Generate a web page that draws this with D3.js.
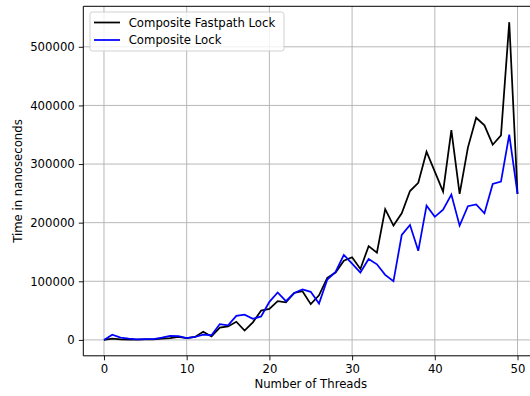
<!DOCTYPE html>
<html>
<head>
<meta charset="utf-8">
<script src="https://cdn.jsdelivr.net/npm/d3@7"></script>
<style>
html,body{margin:0;padding:0;background:#fff;}
svg{display:block;font-family:"DejaVu Sans",sans-serif;}
</style>
</head>
<body>
<svg id="chart" width="530" height="396"></svg>
<script>
const threads = d3.range(0, 51);
const seriesNames = ["Composite Fastpath Lock", "Composite Lock"];
const seriesColors = ["#000000", "#0000ff"];
const fastpathLock = [0, 2000, 1000, 500, 500, 1000, 1000, 2000, 3000, 5000,
  3000, 5000, 14000, 6000, 21000, 23000, 31000, 16000, 30000, 50000,
  53000, 66000, 64000, 80000, 83000, 61000, 76000, 106000, 115000, 135000,
  141000, 121000, 160000, 149000, 223000, 195000, 216000, 254000, 268000, 321000,
  287000, 253000, 358000, 249000, 328000, 379000, 366000, 333000, 349000, 542000,
  249000];
const compositeLock = [0, 9000, 4000, 2000, 1000, 1500, 1500, 4000, 7000, 6500,
  3000, 5000, 9000, 8000, 27000, 25000, 41000, 43000, 36000, 40000,
  65000, 81000, 66000, 80000, 86000, 82000, 62000, 103000, 116000, 145000,
  130000, 115000, 138000, 129000, 111000, 100000, 179000, 196000, 152000, 229000,
  210000, 222000, 248000, 195000, 228000, 231000, 216000, 266000, 270000, 350000,
  249000];
const xTicks = [0, 10, 20, 30, 40, 50];
const yTicks = [0, 100000, 200000, 300000, 400000, 500000];

const svg = d3.select("#chart");
const L = 83.3, R = 538.2, T = 6.3, B = 355.8;

const xMin = 0, xMax = 50, xPad = (xMax - xMin) * 0.05;
const x = d3.scaleLinear().domain([xMin - xPad, xMax + xPad]).range([L, R]);
const all = fastpathLock.concat(compositeLock);
const yMin = d3.min(all), yMax = d3.max(all), yPad = (yMax - yMin) * 0.05;
const y = d3.scaleLinear().domain([yMin - yPad, yMax + yPad]).range([B, T]);

// grid
const grid = svg.append("g");
grid.selectAll("line.vx").data(xTicks).join("line")
  .attr("x1", d => x(d)).attr("x2", d => x(d)).attr("y1", T).attr("y2", B)
  .attr("stroke", "#b0b0b0").attr("stroke-width", 0.9);
grid.selectAll("line.hy").data(yTicks).join("line")
  .attr("x1", L).attr("x2", R).attr("y1", d => y(d)).attr("y2", d => y(d))
  .attr("stroke", "#b0b0b0").attr("stroke-width", 0.9);

// lines
const line = d3.line().x((d, i) => x(threads[i])).y(d => y(d));
[fastpathLock, compositeLock].forEach((s, k) => {
  svg.append("path").datum(s).attr("d", line)
    .attr("fill", "none").attr("stroke", seriesColors[k])
    .attr("stroke-width", 1.75).attr("stroke-linejoin", "miter");
});

// axes
const xAxis = svg.append("g").attr("transform", `translate(0,${B})`)
  .call(d3.axisBottom(x).tickValues(xTicks).tickSize(4.5).tickPadding(4).tickFormat(d3.format("d")));
const yAxis = svg.append("g").attr("transform", `translate(${L},0)`)
  .call(d3.axisLeft(y).tickValues(yTicks).tickSize(4.5).tickPadding(4).tickFormat(d3.format("d")));
[xAxis, yAxis].forEach(a => {
  a.select(".domain").remove();
  a.selectAll("text").attr("font-size", "11.7px").attr("fill", "#000").attr("font-family", "DejaVu Sans");
  a.selectAll("line").attr("stroke", "#000").attr("stroke-width", 0.9);
});

// spines
svg.append("line").attr("x1", L).attr("x2", L).attr("y1", T).attr("y2", B).attr("stroke", "#000").attr("stroke-width", 1);
svg.append("line").attr("x1", L).attr("x2", R).attr("y1", B).attr("y2", B).attr("stroke", "#000").attr("stroke-width", 1);
svg.append("line").attr("x1", L).attr("x2", R).attr("y1", T).attr("y2", T).attr("stroke", "#000").attr("stroke-width", 1);
svg.append("line").attr("x1", R).attr("x2", R).attr("y1", T).attr("y2", B).attr("stroke", "#000").attr("stroke-width", 1);

// axis labels
svg.append("text").attr("x", (L + 538.2) / 2 - 0).attr("y", 388)
  .attr("text-anchor", "middle").attr("font-size", "11.7px").text("Number of Threads")
  .attr("transform", "translate(0,0)");
svg.append("text").attr("transform", `translate(22,${(T + B) / 2}) rotate(-90)`)
  .attr("text-anchor", "middle").attr("font-size", "11.7px").text("Time in nanoseconds");

// legend
const lg = svg.append("g");
lg.append("rect").attr("x", 90).attr("y", 12).attr("width", 194).attr("height", 39)
  .attr("rx", 2.5).attr("fill", "#fff").attr("fill-opacity", 0.8)
  .attr("stroke", "#cccccc").attr("stroke-width", 0.9);
seriesNames.forEach((n, k) => {
  const yy = 22.5 + k * 17.5;
  lg.append("line").attr("x1", 94).attr("x2", 120).attr("y1", yy).attr("y2", yy)
    .attr("stroke", seriesColors[k]).attr("stroke-width", 1.75);
  lg.append("text").attr("x", 128.7).attr("y", yy).attr("dy", "0.35em")
    .attr("font-size", "11.7px").text(n);
});
</script>
</body>
</html>
